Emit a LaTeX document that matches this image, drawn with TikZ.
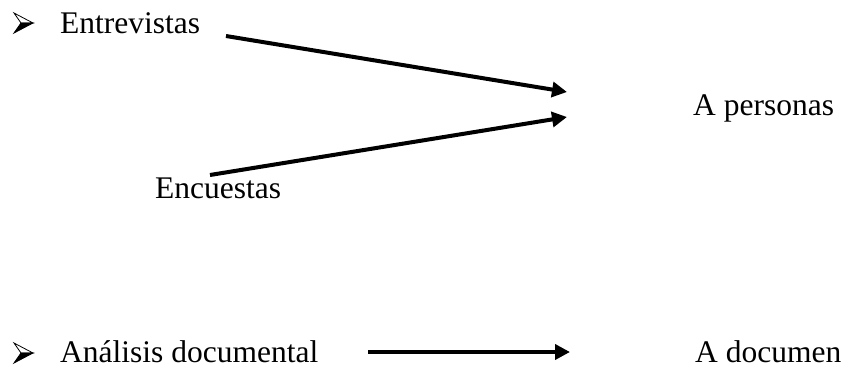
\documentclass[tikz,border=0pt]{standalone}
\usepackage{fontspec}
\setmainfont{Liberation Serif}
\usetikzlibrary{arrows.meta}
\begin{document}
\begin{tikzpicture}[x=1pt,y=-1pt,
  lbl/.style={anchor=base west,inner sep=0pt,font=\fontsize{31.5}{36}\selectfont},
  conn/.style={line width=4pt,-{Triangle[length=15pt,width=15pt]}},
  bul/.style={line width=0.8pt,line join=miter}]
\useasboundingbox (0,0) rectangle (841,370);
\begin{scope}[shift={(0,0)}]
  \filldraw[bul,fill=white] (14,13) -- (33,23) -- (21,23) -- cycle;
  \filldraw[bul,fill=black] (14,33) -- (33,23) -- (21,23) -- cycle;
\end{scope}
\begin{scope}[shift={(0,330)}]
  \filldraw[bul,fill=white] (14,13) -- (33,23) -- (21,23) -- cycle;
  \filldraw[bul,fill=black] (14,33) -- (33,23) -- (21,23) -- cycle;
\end{scope}
\node[lbl] (ent) at (60,33) {Entrevistas};
\node[lbl] (enc) at (155,198) {Encuestas};
\node[lbl] (per) at (693,115) {A personas};
\node[lbl] (ana) at (60,362) {Análisis documental};
\node[lbl] (doc) at (695,362) {A documen};
\coordinate (e1s) at (226,36);
\coordinate (e1t) at (567,92);
\coordinate (e2s) at (210,175);
\coordinate (e2t) at (567,117);
\coordinate (a3s) at (368,352);
\coordinate (a3t) at (570,352);
\draw[conn] (e1s) -- (e1t);
\draw[conn] (e2s) -- (e2t);
\draw[conn] (a3s) -- (a3t);
\end{tikzpicture}
\end{document}
